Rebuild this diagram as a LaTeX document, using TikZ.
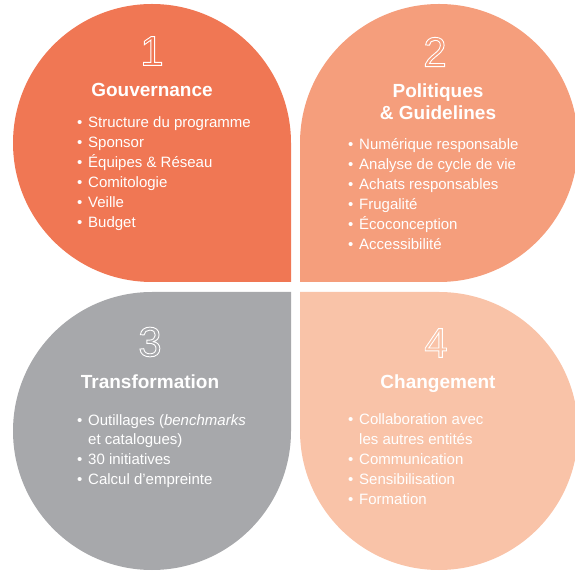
\documentclass[tikz,border=0pt]{standalone}
\usepackage{fontspec}
\setmainfont{Liberation Sans}
\usetikzlibrary{positioning}
\definecolor{petalone}{RGB}{240,119,84}
\definecolor{petaltwo}{RGB}{245,158,124}
\definecolor{petalthree}{RGB}{167,168,171}
\definecolor{petalfour}{RGB}{249,195,168}
\newcommand{\itm}[1]{\makebox[11pt][l]{\textbullet}#1}
\newcommand{\suite}[1]{\hspace*{11pt}#1}
\newcommand{\hollow}[1]{\special{pdf:literal direct 1 Tr 0.9 w 1 1 1 RG}#1\special{pdf:literal direct 0 Tr}}

\begin{document}
\begin{tikzpicture}[
  x=1pt, y=1pt,
  node distance=17pt,
  numeral/.style={inner sep=0pt, text=white, font=\fontsize{42}{42}\selectfont},
  heading/.style={inner sep=0pt, text=white, align=center,
    font=\fontsize{19}{22}\selectfont\bfseries},
  itemlist/.style={inner sep=0pt, text=white, align=left, anchor=base west,
    font=\fontsize{15}{20}\selectfont}
]
  \useasboundingbox (0,0) rectangle (575,570);

  % Pétales
  \fill[petalone] (291,288) -- (152,288) arc[start angle=-90, end angle=-360, radius=139pt] -- cycle;
  \fill[petaltwo] (300,288) -- (300,427) arc[start angle=180, end angle=-90, radius=139pt] -- cycle;
  \fill[petalthree] (291,278) -- (291,139) arc[start angle=0, end angle=-270, radius=139pt] -- cycle;
  \fill[petalfour] (300,278) -- (439,278) arc[start angle=90, end angle=-180, radius=139pt] -- cycle;

  % Numéros
  \node[numeral] (num1) at (152,519) {\hollow{1}};
  \node[numeral] (num2) at (435,518) {\hollow{2}};
  \node[numeral] (num3) at (150,228) {\hollow{3}};
  \node[numeral] (num4) at (436,227) {\hollow{4}};

  % Titres
  \node[heading, below=of num1] (titre1) {Gouvernance};
  \node[heading, below=of num2, xshift=3pt] (titre2) {Politiques\\\& Guidelines};
  \node[heading, below=of num3] (titre3) {Transformation};
  \node[heading, below=of num4, xshift=2pt] (titre4) {Changement};

  % Listes (ancre sur la dernière ligne)
  \node[itemlist] (liste1) at (77,342) {\itm{Structure du programme}\\\itm{Sponsor}\\
    \itm{Équipes \& Réseau}\\\itm{Comitologie}\\\itm{Veille}\\\itm{Budget}};
  \node[itemlist] (liste2) at (348,320) {\itm{Numérique responsable}\\\itm{Analyse de cycle de vie}\\
    \itm{Achats responsables}\\\itm{Frugalité}\\\itm{Écoconception}\\\itm{Accessibilité}};
  \node[itemlist] (liste3) at (77,85) {\itm{Outillages (\emph{benchmarks}}\\\suite{et catalogues)}\\
    \itm{30 initiatives}\\\itm{Calcul d’empreinte}};
  \node[itemlist] (liste4) at (348,66) {\itm{Collaboration avec}\\\suite{les autres entités}\\
    \itm{Communication}\\\itm{Sensibilisation}\\\itm{Formation}};

\end{tikzpicture}
\end{document}
